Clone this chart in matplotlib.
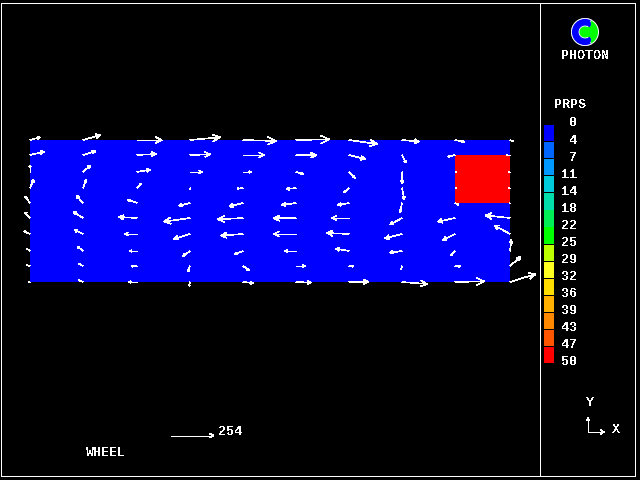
"""
PHOTON style plot: PRPS field with velocity vectors for WHEEL.
"""
import numpy as np
import matplotlib
matplotlib.use('Agg')
import matplotlib.pyplot as plt
from matplotlib.colors import ListedColormap, BoundaryNorm
from matplotlib.patches import Rectangle, Circle, Wedge

# legend levels and colors
levels = [0, 4, 7, 11, 14, 18, 22, 25, 29, 32, 36, 39, 43, 47, 50]
colors = ['#0000ff', '#0066ff', '#0099ff', '#00ccdd', '#00ddaa', '#00ee55', '#00ff00',
          '#bbff00', '#ffff22', '#ffdd00', '#ffb000', '#ff8800', '#ff5500', '#ff0000']

# grid nodes (picture pixels)
x_nodes = [30, 83, 137, 190, 243, 296, 349, 402, 455, 510]
y_nodes = [140, 155, 172, 188, 203, 218, 234, 251, 266, 282]

# cell values, rows from top
prps = [
    [0, 0, 0, 0, 0, 0, 0, 0, 0],
    [0, 0, 0, 0, 0, 0, 0, 0, 50],
    [0, 0, 0, 0, 0, 0, 0, 0, 50],
    [0, 0, 0, 0, 0, 0, 0, 0, 50],
    [0, 0, 0, 0, 0, 0, 0, 0, 0],
    [0, 0, 0, 0, 0, 0, 0, 0, 0],
    [0, 0, 0, 0, 0, 0, 0, 0, 0],
    [0, 0, 0, 0, 0, 0, 0, 0, 0],
    [0, 0, 0, 0, 0, 0, 0, 0, 0],
]

# velocity components at nodes, rows from top
u = [
    [60, 104, 148, 180, 198, 198, 168, 102, 54, 20],
    [84, 76, 114, 120, 126, 120, 96, 24, -42, -18],
    [0, 46, 78, 72, 48, 42, 36, 2, 8, -6],
    [22, 20, 24, 2, -34, -56, -30, 14, 8, -6],
    [-30, -38, -54, -66, -82, -84, -66, -12, 20, -4],
    [-30, -56, -108, -156, -150, -132, -102, -72, -102, -148],
    [-36, -50, -72, -96, -132, -132, -132, -102, -72, -94],
    [-20, -32, -42, -42, -48, -66, -78, -72, -24, 8],
    [-20, -26, -32, -12, 36, 54, 26, -6, 30, 64],
    [-6, -26, -48, -4, 60, 90, 114, 150, 174, 154],
]
v = [
    [16, 30, 0, 16, -6, 4, -24, -10, -12, -8],
    [20, 24, 6, 4, 0, -2, -24, -46, -10, 0],
    [40, 40, 14, 0, 0, -12, -36, -68, 0, 0],
    [50, 50, 28, -6, -4, -6, -26, -68, 0, 0],
    [40, 44, 20, -16, -20, -12, -12, -58, -12, 0],
    [34, 36, 6, -22, -8, -2, 0, -40, -22, 16],
    [16, 24, 0, -30, -10, 0, 6, -26, -36, 52],
    [14, 26, 0, -30, -18, 0, 14, -10, -26, 66],
    [6, 14, -2, -34, -24, 0, -2, -20, -2, 56],
    [0, 12, 0, -24, -6, -4, 2, -12, 4, 48],
]
ref_speed = 254
units_per_px = 6

plt.rcParams['font.family'] = ['Liberation Mono', 'DejaVu Sans Mono']
plt.rcParams['font.weight'] = 'bold'
plt.rcParams['font.size'] = 9.6
plt.rcParams['text.antialiased'] = False

fig = plt.figure(figsize=(6.4, 4.8), dpi=100, facecolor='black')
ax = fig.add_axes([0, 0, 1, 1])
ax.set_xlim(0, 640)
ax.set_ylim(480, 0)  # picture coordinates
ax.axis('off')

# frame and divider
ax.add_patch(Rectangle((0.5, 2.5), 634.5, 473.5, fill=False, ec='white', lw=0.72, aa=False))
ax.plot([539.8, 539.8], [2.5, 476], color='white', lw=0.72, aa=False)

# field
cmap = ListedColormap(colors)
norm = BoundaryNorm(levels, cmap.N)
ax.pcolormesh(x_nodes, y_nodes, prps, cmap=cmap, norm=norm, antialiased=False, zorder=1)


def vector(x0, y0, dx, dy, head=0.25, half=0.12):
    # shaft plus open head, head size follows the length
    tip = np.array([x0 + dx, y0 + dy])
    d = np.array([dx, dy])
    n = np.array([-dy, dx])
    b1 = tip - head * d + half * n
    b2 = tip - head * d - half * n
    ax.plot([x0, tip[0]], [y0, tip[1]], color='white', lw=0.45, aa=False,
            solid_capstyle='butt', zorder=3)
    ax.plot([b1[0], tip[0], b2[0]], [b1[1], tip[1], b2[1]], color='white', lw=0.45, aa=False,
            solid_capstyle='butt', zorder=3)


for i, y0 in enumerate(y_nodes):
    for j, x0 in enumerate(x_nodes):
        vector(x0, y0, u[i][j] / units_per_px, -v[i][j] / units_per_px)

# reference vector and labels
vector(171, 435.5, ref_speed / units_per_px, 0, head=0.09, half=0.05)
ax.text(218, 432, str(ref_speed), color='white', ha='left', va='center')
ax.text(86, 453, 'WHEEL', color='white', ha='left', va='center')

# legend
ax.text(554, 105, 'PRPS', color='white', ha='left', va='center')
for k, c in enumerate(colors):
    ax.add_patch(Rectangle((544, 125 + k * 17.08), 10, 16.2, fc=c, ec='none', aa=False))
for k, lev in enumerate(levels):
    ax.text(577, 123.5 + k * 17.07, str(lev), color='white', ha='right', va='center')

# logo
ax.add_patch(Circle((585, 32), 14, fc='white', ec='none'))
ax.add_patch(Circle((585, 32), 13, fc='#00ff00', ec='none'))
ax.add_patch(Wedge((585, 32), 13.5, 62, 298, width=7.5, fc='#0000ff', ec='white', lw=0.6))
ax.add_patch(Wedge((587, 24), 4, 300, 60, fc='#0000ff', ec='none'))
ax.add_patch(Wedge((587, 40), 4, 300, 60, fc='#0000ff', ec='none'))
ax.text(585, 56, 'PHOTON', color='white', ha='center', va='center')

# axis triad
vector(588, 432, 0, -14, head=0.2, half=0.12)
vector(588, 432, 16, 0, head=0.2, half=0.12)
ax.text(590, 403, 'Y', color='white', ha='center', va='center')
ax.text(616, 430, 'X', color='white', ha='center', va='center')

fig.savefig('out.png', dpi=100, facecolor='black')
